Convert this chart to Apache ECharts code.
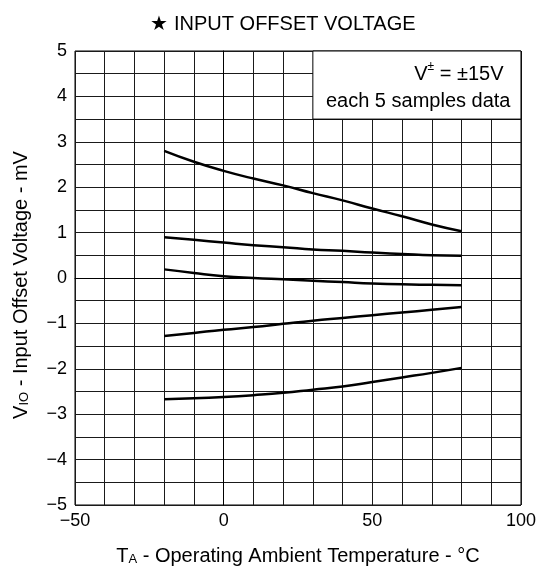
<!DOCTYPE html>
<html>
<head>
<meta charset="utf-8">
<script src="https://cdn.jsdelivr.net/npm/echarts@6/dist/echarts.min.js"></script>
<style>
  html, body { margin: 0; padding: 0; background: #fff; }
  #main { width: 539px; height: 572px; }
</style>
</head>
<body>
<div id="main"></div>
<script>
// temperatures (°C) where the curves were read
var temps = [-20, -10, 0, 10, 20, 30, 40, 50, 60, 70, 80];

// offset voltage (mV) for the 5 samples
var sample1 = [2.80, 2.56, 2.36, 2.19, 2.04, 1.87, 1.71, 1.53, 1.36, 1.18, 1.03];
var sample2 = [0.90, 0.84, 0.78, 0.72, 0.68, 0.63, 0.60, 0.56, 0.53, 0.50, 0.49];
var sample3 = [0.19, 0.11, 0.04, 0.00, -0.03, -0.06, -0.09, -0.12, -0.14, -0.15, -0.16];
var sample4 = [-1.28, -1.21, -1.14, -1.08, -1.01, -0.94, -0.88, -0.82, -0.76, -0.70, -0.64];
var sample5 = [-2.67, -2.65, -2.62, -2.58, -2.53, -2.46, -2.39, -2.29, -2.19, -2.09, -1.98];

var xTicks = [-50, 0, 50, 100];
var yTicks = [-5, -4, -3, -2, -1, 0, 1, 2, 3, 4, 5];

var chart = echarts.init(document.getElementById('main'));

function minus(v) {
  return v < 0 ? '\u2212' + Math.abs(v) : String(v);
}

function makeSeries(vals) {
  return {
    type: 'line',
    smooth: true,
    symbol: 'none',
    silent: true,
    z: 5,
    lineStyle: { color: '#000', width: 2.5 },
    data: temps.map(function (t, i) { return [t, vals[i]]; })
  };
}

var font = 'Liberation Sans, Arial, sans-serif';

var options = {
  animation: false,
  title: {
    text: '\u2605 INPUT OFFSET VOLTAGE',
    left: 278,
    textAlign: 'center',
    top: 9,
    textStyle: { fontFamily: font, fontSize: 20, fontWeight: 'normal', color: '#000' }
  },
  grid: {
    left: 75, right: 18, top: 51, bottom: 67,
    show: true, borderColor: '#000', borderWidth: 1
  },
  xAxis: {
    type: 'value',
    min: -50, max: 100, interval: 10,
    axisLine: { show: true, lineStyle: { color: '#000', width: 1 } },
    axisTick: { show: false },
    axisLabel: {
      fontFamily: font, fontSize: 18, color: '#000', margin: 7,
      formatter: function (v) { return xTicks.indexOf(v) >= 0 ? minus(v) : ''; }
    },
    splitLine: { show: true, lineStyle: { color: '#1a1a1a', width: 1 } },
    name: 'T{sub|A} - Operating Ambient Temperature - \u00b0C',
    nameLocation: 'middle',
    nameGap: 41,
    nameTextStyle: {
      fontFamily: font, fontSize: 20, color: '#000',
      rich: { sub: { fontFamily: font, fontSize: 13, color: '#000', verticalAlign: 'bottom', padding: [5, 0, 0, 0] } }
    }
  },
  yAxis: {
    type: 'value',
    min: -5, max: 5, interval: 0.5,
    axisLine: { show: true, lineStyle: { color: '#000', width: 1 } },
    axisTick: { show: false },
    axisLabel: {
      fontFamily: font, fontSize: 18, color: '#000', margin: 8,
      formatter: function (v) { return yTicks.indexOf(v) >= 0 ? minus(v) : ''; }
    },
    splitLine: { show: true, lineStyle: { color: '#1a1a1a', width: 1 } },
    name: 'V{sub|IO} - Input Offset Voltage - mV',
    nameLocation: 'middle',
    nameRotate: 90,
    nameGap: 44,
    nameTextStyle: {
      fontFamily: font, fontSize: 20, color: '#000',
      padding: [0, 14, 0, 0],
      rich: { sub: { fontFamily: font, fontSize: 13, color: '#000', verticalAlign: 'bottom', padding: [5, 0, 0, 0] } }
    }
  },
  series: [
    makeSeries(sample1),
    makeSeries(sample2),
    makeSeries(sample3),
    makeSeries(sample4),
    {
      type: 'line',
      smooth: true,
      symbol: 'none',
      silent: true,
      z: 5,
      lineStyle: { color: '#000', width: 2.5 },
      data: temps.map(function (t, i) { return [t, sample5[i]]; }),
      markArea: {
        silent: true,
        itemStyle: { color: '#fff', borderColor: '#000', borderWidth: 1 },
        label: {
          show: true,
          position: 'insideRight',
          distance: 11,
          align: 'right',
          offset: [0, 3],
          fontFamily: font, fontSize: 20, color: '#000', lineHeight: 27,
          formatter: '{a|V}{sup|\u00b1}{b| = \u00b115V}\neach 5 samples data',
          rich: {
            a: { fontFamily: font, fontSize: 20, color: '#000', lineHeight: 27 },
            b: { fontFamily: font, fontSize: 20, color: '#000', lineHeight: 27, padding: [0, 7, 0, 0] },
            sup: { fontFamily: font, fontSize: 12, color: '#000', verticalAlign: 'top', padding: [0, 0, 8, 0] }
          }
        },
        data: [[{ coord: [30, 5] }, { coord: [100, 3.5] }]]
      }
    }
  ]
};

chart.setOption(options);
</script>
</body>
</html>
